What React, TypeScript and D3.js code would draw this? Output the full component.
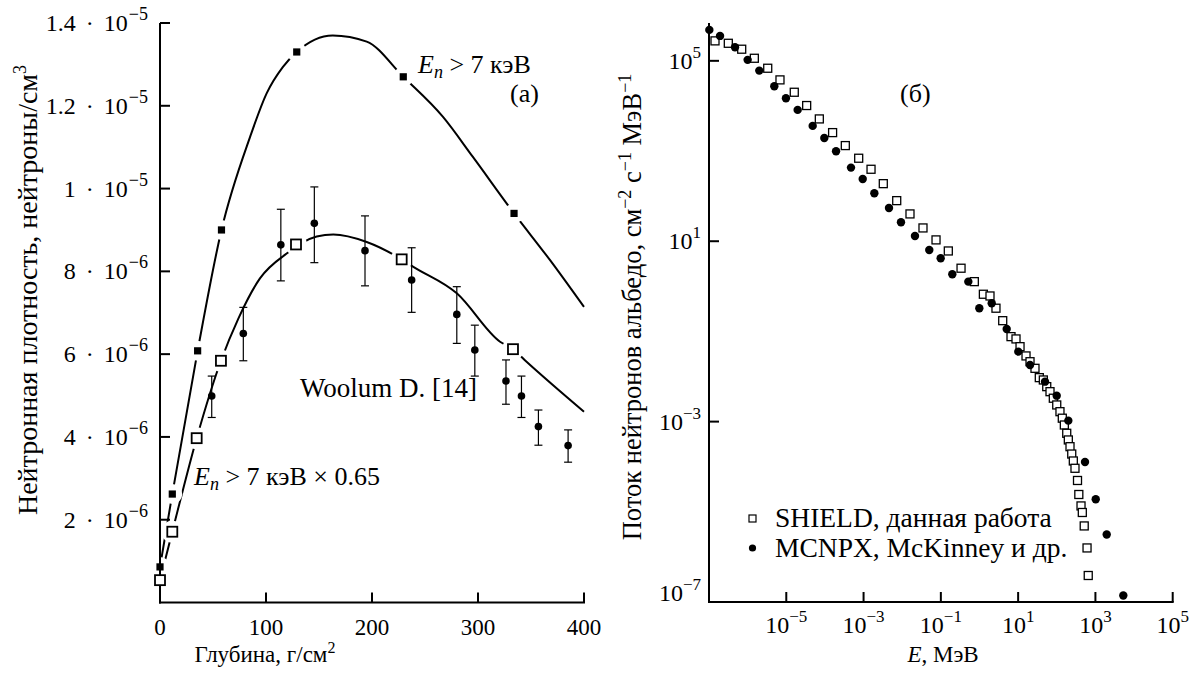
import React from 'react';
import * as d3 from 'd3';

// ---------- Panel (a) data ----------
const depthTicks = [100, 200, 300, 400];
const depthTickLabels = ['0', '100', '200', '300', '400'];
const densityTicks = [2e-6, 4e-6, 6e-6, 8e-6, 1e-5, 1.2e-5, 1.4e-5];
const densityMant = ['2', '4', '6', '8', '1', '1.2', '1.4'];
const densityExp = ['6', '6', '6', '6', '5', '5', '5'];

// E_n > 7 keV (filled squares)
const upperMarkers: [number, number][] = [
  [0, 0.86e-6], [11.6, 2.62e-6], [35.5, 6.08e-6], [58, 9.0e-6],
  [129, 13.3e-6], [229.5, 12.7e-6], [334, 9.4e-6],
];
const upperCurve: [number, number][] = [
  [0, 0.86e-6], [11.6, 2.62e-6], [35.5, 6.08e-6], [58, 9.0e-6], [85, 11.25e-6],
  [100.6, 12.3e-6], [116, 12.94e-6], [129, 13.3e-6], [163, 13.7e-6], [195, 13.55e-6],
  [229.5, 12.7e-6], [267, 11.73e-6], [295, 10.77e-6], [334, 9.4e-6], [368, 8.27e-6],
  [400, 7.14e-6],
];
// E_n > 7 keV x 0.65 (open squares)
const lowerMarkers: [number, number][] = [
  [0, 0.54e-6], [11.6, 1.71e-6], [34.6, 3.97e-6], [57.5, 5.84e-6],
  [128.3, 8.65e-6], [228, 8.29e-6], [333, 6.12e-6],
];
const lowerCurve: [number, number][] = [
  [0, 0.54e-6], [11.6, 1.71e-6], [34.6, 3.97e-6], [57.5, 5.84e-6], [73.9, 6.86e-6],
  [94.3, 7.83e-6], [119.5, 8.43e-6], [147.8, 8.84e-6], [163.5, 8.89e-6], [195, 8.71e-6],
  [228, 8.29e-6], [239, 8.11e-6], [280, 7.47e-6], [320.8, 6.3e-6], [333, 6.12e-6],
  [344, 5.86e-6], [400, 4.61e-6],
];
// Woolum D. [14]: depth, value, low, high
const woolum: [number, number, number, number][] = [
  [48.8, 4.99e-6, 4.47e-6, 5.47e-6],
  [78.6, 6.5e-6, 5.84e-6, 7.13e-6],
  [114, 8.64e-6, 7.77e-6, 9.5e-6],
  [145.6, 9.16e-6, 8.21e-6, 10.04e-6],
  [193.4, 8.5e-6, 7.65e-6, 9.34e-6],
  [237.4, 7.79e-6, 7.01e-6, 8.57e-6],
  [280, 6.96e-6, 6.26e-6, 7.63e-6],
  [297, 6.1e-6, 5.47e-6, 6.7e-6],
  [326.4, 5.35e-6, 4.79e-6, 5.86e-6],
  [341, 4.99e-6, 4.47e-6, 5.47e-6],
  [357, 4.25e-6, 3.8e-6, 4.65e-6],
  [385, 3.79e-6, 3.39e-6, 4.17e-6],
];

// ---------- Panel (б) data ----------
const energyTicks = [1e-5, 1e-3, 1e-1, 1e1, 1e3, 1e5];
const energyExp = ['−5', '−3', '−1', '1', '3', '5'];
const fluxTicks = [1e5, 1e1, 1e-3];
const fluxLabelValues = [1e5, 1e1, 1e-3, 1e-7];
const fluxExp = ['5', '1', '−3', '−7'];

const shield: [number, number][] = [
  [1.43e-7, 2.77e5], [3.16e-7, 2.45e5], [7.02e-7, 1.81e5], [1.49e-6, 1.14e5],
  [3.31e-6, 6.85e4], [6.87e-6, 3.78e4], [1.61e-5, 2.01e4], [3.37e-5, 1.02e4],
  [7.16e-5, 5.15e3], [1.58e-4, 2.56e3], [3.37e-4, 1.32e3], [7.48e-4, 692],
  [1.56e-3, 394], [3.24e-3, 189], [7.21e-3, 79.4], [1.59e-2, 40.3],
  [3.45e-2, 19.7], [7.5e-2, 10.7], [0.156, 6.08], [0.333, 2.52],
  [0.735, 1.27], [1.26, 0.667], [1.87, 0.611], [2.67, 0.327],
  [3.99, 0.173], [6.54, 0.0766], [8.81, 0.0681], [11.2, 0.0459],
  [16.0, 0.0286], [20.3, 0.0213], [27.3, 0.0152], [35.3, 9.44e-3],
  [44.9, 8.38e-3], [55, 5.96e-3], [66.8, 4.61e-3], [81.4, 3.3e-3],
  [99.8, 2.34e-3], [121, 1.66e-3], [139, 1.19e-3], [157, 8.41e-4],
  [181, 5.51e-4], [199, 3.92e-4], [220, 2.78e-4], [244, 1.91e-4],
  [268, 1.34e-4], [296, 9.23e-5], [344, 4.95e-5], [372, 2.42e-5],
  [424, 1.35e-5], [458, 9.66e-6], [513, 4.86e-6], [607, 1.58e-6],
  [652, 3.87e-7],
];
const mcnpx: [number, number][] = [
  [1.02e-7, 4.85e5], [1.93e-7, 3.57e5], [4.71e-7, 2.0e5], [1.0e-6, 1.05e5],
  [2.0e-6, 6.07e4], [4.9e-6, 2.74e4], [9.8e-6, 1.48e4], [1.97e-5, 8.17e3],
  [4.82e-5, 3.61e3], [9.64e-5, 1.95e3], [1.94e-4, 988], [4.73e-4, 429],
  [9.5e-4, 240], [1.9e-3, 116], [4.55e-3, 54.7], [9.3e-3, 26.4],
  [2.14e-2, 13.1], [5.02e-2, 6.41], [9.9e-2, 4.2], [0.198, 1.85],
  [0.514, 1.27], [0.99, 0.327], [2.07, 0.422], [5.06, 0.1135],
  [10.1, 0.0356], [20.3, 0.018], [49.6, 7.69e-3], [99.6, 3.76e-3],
  [199, 1.05e-3], [538, 1.27e-4], [1019, 1.9e-5], [1960, 3.13e-6],
  [5270, 1.39e-7],
];

const FONT = "'Liberation Serif', 'Times New Roman', Times, serif";

export default function App() {
  const xL = d3.scaleLinear().domain([0, 400]).range([160, 584]);
  const yL = d3.scaleLinear().domain([0, 1.4e-5]).range([602.5, 23]);
  const xR = d3.scaleLog().domain([1e-7, 1e5]).range([709, 1172.7]);
  const yR = d3.scaleLog().domain([1e-7, 6.9e5]).range([602, 23]);

  const lineL = d3
    .line<[number, number]>()
    .x((d) => xL(d[0]))
    .y((d) => yL(d[1]))
    .curve(d3.curveMonotoneX);

  const axisW = 2;
  const tickLen = 10;
  const ts = { fontFamily: FONT };

  return (
    <svg
      width={1192}
      height={673}
      style={{ position: 'absolute', left: 0, top: 0, background: '#fff', fontFamily: FONT }}
    >
      <rect x={0} y={0} width={1192} height={673} fill="#fff" />

      {/* ===== Panel (a) ===== */}
      <path d={lineL(upperCurve) || ''} fill="none" stroke="#000" strokeWidth={2} />
      <path d={lineL(lowerCurve) || ''} fill="none" stroke="#000" strokeWidth={2} />
      {/* gaps around markers */}
      {upperMarkers.map((d, i) => (
        <circle key={'hu' + i} cx={xL(d[0])} cy={yL(d[1])} r={10} fill="#fff" />
      ))}
      {lowerMarkers.map((d, i) => (
        <circle key={'hl' + i} cx={xL(d[0])} cy={yL(d[1])} r={11} fill="#fff" />
      ))}

      {/* axes (a) */}
      <line x1={xL(0)} x2={xL(0)} y1={yL(1.4e-5)} y2={yL(0) + 1} stroke="#000" strokeWidth={axisW} />
      <line x1={xL(0) - 1} x2={xL(400) + 1} y1={yL(0)} y2={yL(0)} stroke="#000" strokeWidth={axisW} />
      {densityTicks.map((t, i) => (
        <g key={'yt' + i}>
          <line x1={xL(0)} x2={xL(0) + tickLen} y1={yL(t)} y2={yL(t)} stroke="#000" strokeWidth={axisW} />
          <text x={148} y={yL(t) + 8} textAnchor="end" fontSize={24} style={ts}>
            {densityMant[i]}
            <tspan dx={10}>·</tspan>
            <tspan dx={10}>10</tspan>
            <tspan dy={-11} dx={1} fontSize={18}>{'−' + densityExp[i]}</tspan>
          </text>
        </g>
      ))}
      {depthTicks.map((t, i) => (
        <line key={'xt' + i} x1={xL(t)} x2={xL(t)} y1={yL(0)} y2={yL(0) - tickLen} stroke="#000" strokeWidth={axisW} />
      ))}
      {[0, ...depthTicks].map((t, i) => (
        <text key={'xl' + i} x={xL(t)} y={635} textAnchor="middle" fontSize={23} style={ts}>
          {depthTickLabels[i]}
        </text>
      ))}

      {/* Woolum error bars */}
      {woolum.map((d, i) => (
        <g key={'w' + i} stroke="#000" strokeWidth={1.2}>
          <line x1={xL(d[0])} x2={xL(d[0])} y1={yL(d[2])} y2={yL(d[3])} />
          <line x1={xL(d[0]) - 4} x2={xL(d[0]) + 4} y1={yL(d[2])} y2={yL(d[2])} />
          <line x1={xL(d[0]) - 4} x2={xL(d[0]) + 4} y1={yL(d[3])} y2={yL(d[3])} />
        </g>
      ))}
      {woolum.map((d, i) => (
        <circle key={'wc' + i} cx={xL(d[0])} cy={yL(d[1])} r={3.8} fill="#000" />
      ))}
      {upperMarkers.map((d, i) => (
        <rect key={'um' + i} x={xL(d[0]) - 3.6} y={yL(d[1]) - 3.6} width={7.2} height={7.2} fill="#000" />
      ))}
      {lowerMarkers.map((d, i) => (
        <rect key={'lm' + i} x={xL(d[0]) - 5} y={yL(d[1]) - 5} width={10} height={10} fill="#fff" stroke="#000" strokeWidth={1.8} />
      ))}

      {/* labels (a) */}
      <text x={418} y={73} fontSize={26} style={ts}>
        <tspan fontStyle="italic">E</tspan>
        <tspan fontStyle="italic" fontSize={18} dy={5}>n</tspan>
        <tspan dy={-5}> &gt; 7 кэВ</tspan>
      </text>
      <text x={510} y={102} fontSize={26} style={ts}>(а)</text>
      <text x={300} y={397} fontSize={27} style={ts}>Woolum D. [14]</text>
      <text x={194} y={485} fontSize={26} style={ts}>
        <tspan fontStyle="italic">E</tspan>
        <tspan fontStyle="italic" fontSize={18} dy={5}>n</tspan>
        <tspan dy={-5}> &gt; 7 кэВ × 0.65</tspan>
      </text>
      <text x={265} y={662} textAnchor="middle" fontSize={23} style={ts}>
        Глубина, г/см<tspan dy={-9} fontSize={16}>2</tspan>
      </text>
      <text transform="translate(37,290) rotate(-90)" textAnchor="middle" fontSize={28} style={ts}>
        Нейтронная плотность, нейтроны/см<tspan dy={-11} fontSize={18}>3</tspan>
      </text>

      {/* ===== Panel (б) ===== */}
      <line x1={xR(1e-7)} x2={xR(1e-7)} y1={yR(6.9e5)} y2={yR(1e-7) + 1} stroke="#000" strokeWidth={axisW} />
      <line x1={xR(1e-7) - 1} x2={xR(1e5) + 1} y1={yR(1e-7)} y2={yR(1e-7)} stroke="#000" strokeWidth={axisW} />
      {fluxTicks.map((t, i) => (
        <line key={'ryt' + i} x1={xR(1e-7)} x2={xR(1e-7) + tickLen} y1={yR(t)} y2={yR(t)} stroke="#000" strokeWidth={axisW} />
      ))}
      {fluxLabelValues.map((t, i) => (
        <text
          key={'ryl' + i}
          x={701}
          y={Math.min(yR(t) + 8, 601)}
          textAnchor="end"
          fontSize={24}
          style={ts}
        >
          10<tspan dy={-11} fontSize={17}>{fluxExp[i]}</tspan>
        </text>
      ))}
      {energyTicks.map((t, i) => (
        <g key={'rxt' + i}>
          <line x1={xR(t)} x2={xR(t)} y1={yR(1e-7)} y2={yR(1e-7) - tickLen} stroke="#000" strokeWidth={axisW} />
          <text x={xR(t)} y={633} textAnchor="middle" fontSize={24} style={ts}>
            10<tspan dy={-11} fontSize={17}>{energyExp[i]}</tspan>
          </text>
        </g>
      ))}

      {shield.map((d, i) => (
        <rect key={'s' + i} x={xR(d[0]) - 4} y={yR(d[1]) - 4} width={8} height={8} fill="#fff" stroke="#000" strokeWidth={1.3} />
      ))}
      {mcnpx.map((d, i) => (
        <circle key={'m' + i} cx={xR(d[0])} cy={yR(d[1])} r={4.2} fill="#000" />
      ))}

      {/* legend */}
      <rect x={749} y={515} width={7} height={7} fill="#fff" stroke="#000" strokeWidth={1.2} />
      <text x={775} y={527} fontSize={27.5} style={ts}>SHIELD, данная работа</text>
      <circle cx={752.5} cy={548} r={3.6} fill="#000" />
      <text x={775} y={557} fontSize={27.5} style={ts}>MCNPX, McKinney и др.</text>

      <text x={900} y={102} fontSize={26} style={ts}>(б)</text>
      <text x={943} y={662} textAnchor="middle" fontSize={23} style={ts}>
        <tspan fontStyle="italic">E</tspan>, МэВ
      </text>
      <text transform="translate(641,307) rotate(-90)" textAnchor="middle" fontSize={26.5} style={ts}>
        Поток нейтронов альбедо, см<tspan dy={-10} fontSize={18}>−2</tspan>
        <tspan dy={10}> с</tspan>
        <tspan dy={-10} fontSize={18}>−1</tspan>
        <tspan dy={10}> МэВ</tspan>
        <tspan dy={-10} fontSize={18}>−1</tspan>
      </text>
    </svg>
  );
}
